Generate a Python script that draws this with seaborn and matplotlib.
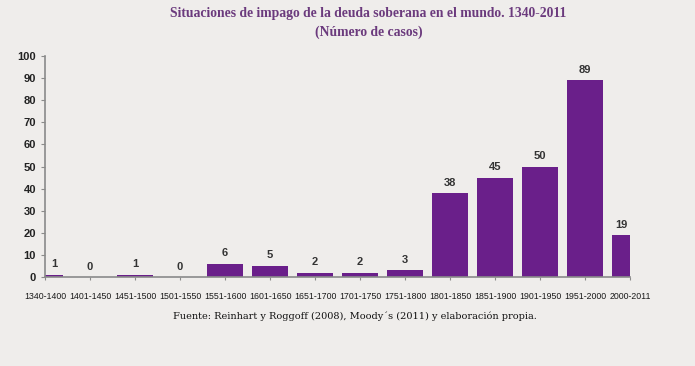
import matplotlib
matplotlib.use('Agg')
import matplotlib.pyplot as plt
import seaborn as sns
import pandas as pd

# Data
periodos = ['1340-1400', '1401-1450', '1451-1500', '1501-1550', '1551-1600',
            '1601-1650', '1651-1700', '1701-1750', '1751-1800', '1801-1850',
            '1851-1900', '1901-1950', '1951-2000', '2000-2011']
casos = [1, 0, 1, 0, 6, 5, 2, 2, 3, 38, 45, 50, 89, 19]
y_ticks = [0, 10, 20, 30, 40, 50, 60, 70, 80, 90, 100]

bg = '#efedeb'
purple = '#6a1f8a'

sns.set_style('white')
plt.rcParams['font.family'] = ['Liberation Sans', 'DejaVu Sans']

df = pd.DataFrame({'periodo': periodos, 'casos': casos})

fig = plt.figure(figsize=(6.95, 3.66), dpi=100, facecolor=bg)
ax = fig.add_axes([0.0647, 0.243, 0.842, 0.604])
ax.set_facecolor(bg)

sns.barplot(data=df, x='periodo', y='casos', color=purple, width=0.8,
            saturation=1, linewidth=0, ax=ax)

n = len(periodos)
ax.set_xlim(0, n - 1)
ax.set_ylim(0, 100)
ax.set_yticks(y_ticks)
ax.set_xlabel('')
ax.set_ylabel('')

# labels on top, centered on the visible part of the bar
for i, v in enumerate(casos):
    x = i
    if i == 0:
        x = 0.2
    elif i == n - 1:
        x = n - 1.2
    ax.text(x, v + 2.5, str(v), ha='center', va='bottom', fontsize=8,
            color='#333333', fontweight='bold')

for s in ['top', 'right']:
    ax.spines[s].set_visible(False)
for s in ['left', 'bottom']:
    ax.spines[s].set_color('#8a8a8a')
    ax.spines[s].set_linewidth(1.2)

ax.tick_params(axis='y', labelsize=8, colors='#222222', length=3,
               left=True, color='#8a8a8a')
ax.tick_params(axis='x', labelsize=6.3, colors='#1a1a1a', length=2,
               bottom=True, color='#8a8a8a', pad=9)
for lbl in ax.get_yticklabels():
    lbl.set_fontweight('bold')

fig.text(0.53, 0.962, 'Situaciones de impago de la deuda soberana en el mundo. 1340-2011',
         ha='center', va='center', fontsize=9.8, color='#6b3a7d',
         family='Liberation Serif', fontweight='bold')
fig.text(0.53, 0.912, '(Número de casos)', ha='center', va='center',
         fontsize=9.8, color='#6b3a7d', family='Liberation Serif', fontweight='bold')
fig.text(0.51, 0.135, 'Fuente: Reinhart y Roggoff (2008), Moody´s (2011) y elaboración propia.',
         ha='center', va='center', fontsize=7, color='#111111',
         family='DejaVu Serif')

fig.savefig('out.png', dpi=100, facecolor=bg)
